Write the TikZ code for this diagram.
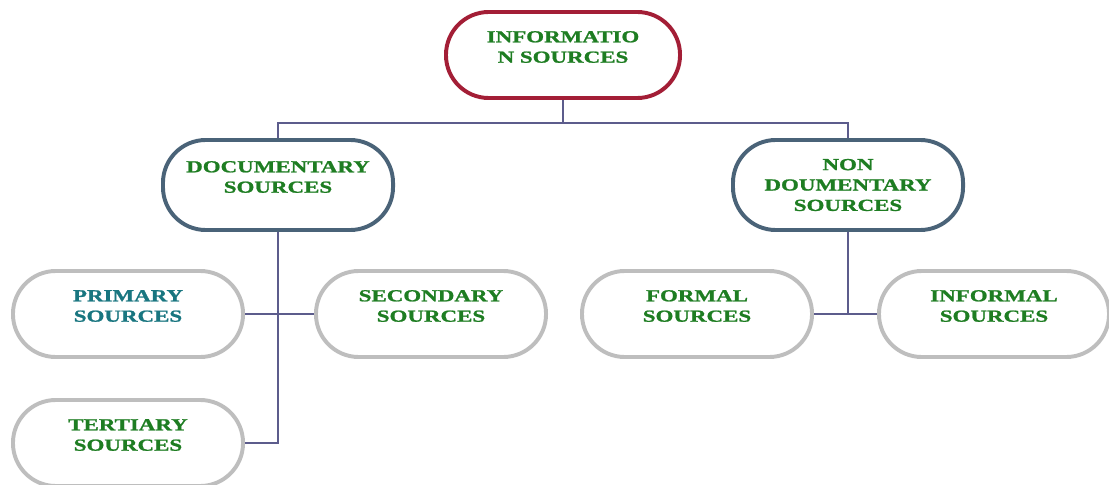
\documentclass[tikz,border=0pt]{standalone}
\usepackage{fontspec}
\newfontfamily\srcfont[FakeStretch=1.36,BoldFeatures={FakeBold=1.2}]{Liberation Serif}
\usetikzlibrary{positioning}
\definecolor{infored}{RGB}{163,30,54}
\definecolor{docblue}{RGB}{74,99,120}
\definecolor{leafgray}{RGB}{190,190,190}
\definecolor{srcgreen}{RGB}{30,125,34}
\definecolor{srcteal}{RGB}{25,118,128}
\definecolor{linkblue}{RGB}{92,92,140}

\begin{document}
\begin{tikzpicture}[x=0.025cm,y=-0.025cm,
  every node/.style={font=\srcfont\bfseries\fontsize{12}{14.5}\selectfont,align=center,
    text=srcgreen,inner sep=0pt,minimum width=5.75cm,minimum height=2.15cm,
    rounded corners=1.07cm,line width=2.8pt,fill=white},
  link/.style={draw=linkblue,line width=1.1pt}]
\useasboundingbox (0,0) rectangle (1109,485);
\node[draw=infored,minimum width=5.85cm] (info) at (563,55) {INFORMATIO\\N SOURCES\\[-3pt]\mbox{}};
\node[draw=docblue,minimum height=2.25cm] (doc) at (278,185) {DOCUMENTARY\\SOURCES\\[-3pt]\mbox{}};
\node[draw=docblue,minimum height=2.25cm] (nondoc) at (848,185) {NON\\DOUMENTARY\\SOURCES};
\node[draw=leafgray,text=srcteal] (prim) at (128,314) {PRIMARY\\SOURCES\\[-3pt]\mbox{}};
\node[draw=leafgray] (sec) at (431,314) {SECONDARY\\SOURCES\\[-3pt]\mbox{}};
\node[draw=leafgray] (tert) at (128,443) {TERTIARY\\SOURCES\\[-3pt]\mbox{}};
\node[draw=leafgray] (formal) at (697,314) {FORMAL\\SOURCES\\[-3pt]\mbox{}};
\node[draw=leafgray] (informal) at (994,314) {INFORMAL\\SOURCES\\[-3pt]\mbox{}};
\coordinate (split) at (563,123);
\draw[link] (info.south) -- (split) -| (doc.north);
\draw[link] (split) -| (nondoc.north);
\draw[link] (doc.south) |- (tert.east);
\draw[link] (prim.east) -- (sec.west);
\draw[link] (nondoc.south) -- (nondoc.south |- formal.east);
\draw[link] (formal.east) -- (informal.west);
\end{tikzpicture}
\end{document}
